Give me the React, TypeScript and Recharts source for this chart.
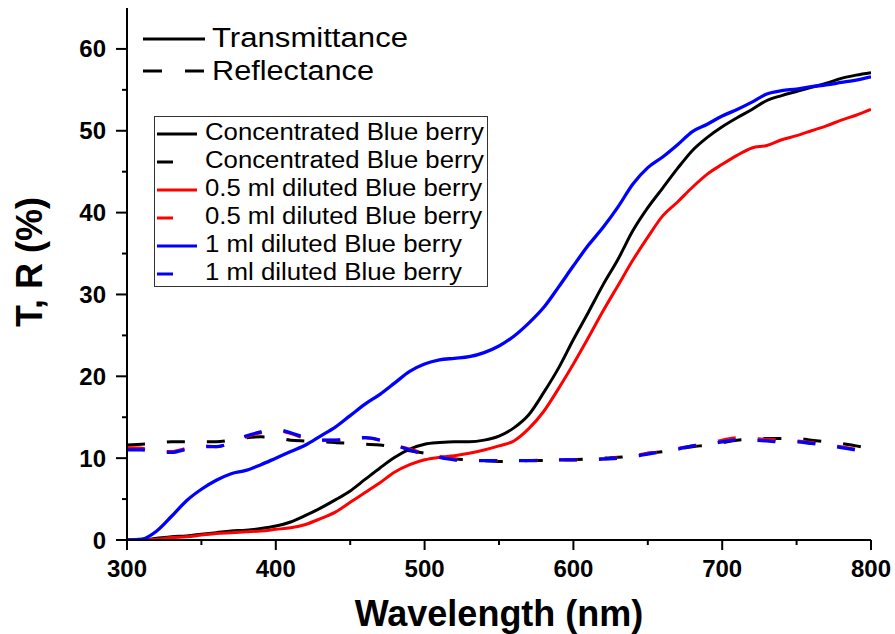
import React from 'react';
import { LineChart, Line, XAxis, YAxis } from 'recharts';

const wavelengths = [300, 310, 320, 330, 340, 350, 360, 370, 380, 390, 400, 410, 420, 430, 440, 450, 460, 470, 480, 490, 500, 510, 520, 530, 540, 550, 560, 570, 580, 590, 600, 610, 620, 630, 640, 650, 660, 670, 680, 690, 700, 710, 720, 730, 740, 750, 760, 770, 780, 790, 800];

const concT = [0, 0, 0.2, 0.4, 0.5, 0.7, 0.9, 1.1, 1.2, 1.4, 1.7, 2.2, 3.0, 3.9, 4.9, 6.0, 7.4, 8.8, 10.1, 11.1, 11.7, 11.9, 12.0, 12.0, 12.2, 12.7, 13.7, 15.3, 18.0, 21.0, 24.5, 27.8, 31.2, 34.3, 37.8, 40.6, 43.0, 45.4, 47.6, 49.2, 50.5, 51.6, 52.6, 53.7, 54.3, 54.8, 55.3, 55.8, 56.4, 56.8, 57.1];
const concR = [11.6, 11.7, 11.8, 12.0, 12.0, 12.0, 12.0, 12.2, 12.5, 12.6, 12.5, 12.2, 12.1, 12.0, 11.9, 11.8, 11.7, 11.6, 11.3, 10.9, 10.6, 10.2, 9.9, 9.8, 9.7, 9.6, 9.6, 9.7, 9.7, 9.8, 9.8, 9.9, 10.0, 10.1, 10.3, 10.6, 10.8, 11.1, 11.4, 11.6, 11.9, 12.2, 12.3, 12.4, 12.4, 12.4, 12.2, 12.0, 11.8, 11.5, 11.2];
const halfT = [0, 0, 0.1, 0.3, 0.4, 0.6, 0.8, 0.9, 1.0, 1.1, 1.3, 1.5, 1.9, 2.6, 3.4, 4.6, 5.8, 7.0, 8.3, 9.2, 9.8, 10.1, 10.3, 10.6, 11.0, 11.5, 12.1, 13.6, 15.7, 18.5, 21.5, 24.7, 28.0, 31.1, 34.2, 37.0, 39.6, 41.3, 43.1, 44.7, 45.9, 47.0, 47.9, 48.2, 48.9, 49.4, 50.0, 50.6, 51.3, 51.9, 52.6];
const halfR = [11.3, 11.2, 10.9, 10.8, 11.2, 11.5, 11.4, 11.9, 12.6, 13.1, 13.4, 13.0, 12.4, 12.2, 12.2, 12.4, 12.5, 12.2, 11.6, 11.1, 10.6, 10.2, 9.9, 9.8, 9.7, 9.7, 9.7, 9.7, 9.8, 9.8, 9.8, 9.9, 9.9, 10.1, 10.3, 10.6, 10.8, 11.2, 11.5, 11.8, 12.2, 12.5, 12.4, 12.3, 12.2, 12.1, 11.9, 11.6, 11.4, 11.1, 10.9];
const oneT = [0, 0.1, 1.1, 2.9, 4.8, 6.2, 7.3, 8.1, 8.5, 9.2, 10.0, 10.8, 11.6, 12.7, 13.8, 15.2, 16.6, 17.8, 19.2, 20.6, 21.5, 22.0, 22.2, 22.4, 22.9, 23.7, 24.9, 26.5, 28.4, 30.9, 33.5, 36.0, 38.2, 40.7, 43.5, 45.5, 46.8, 48.3, 49.9, 50.8, 51.8, 52.6, 53.5, 54.5, 54.9, 55.1, 55.4, 55.6, 55.9, 56.2, 56.6];
const oneR = [11.0, 11.0, 10.7, 10.7, 11.1, 11.4, 11.4, 11.9, 12.7, 13.2, 13.5, 13.1, 12.5, 12.2, 12.2, 12.4, 12.5, 12.2, 11.6, 11.0, 10.5, 10.1, 9.8, 9.7, 9.7, 9.7, 9.7, 9.7, 9.7, 9.8, 9.8, 9.8, 9.9, 10.0, 10.2, 10.5, 10.8, 11.1, 11.5, 11.7, 12.0, 12.2, 12.2, 12.1, 12.0, 12.0, 11.8, 11.6, 11.3, 11.0, 10.7];

const seriesNames = ['Concentrated Blue berry', '0.5 ml diluted Blue berry', '1 ml diluted Blue berry'];
const seriesColors = ['#000000', '#ff0000', '#0000ff'];
const typeNames = ['Transmittance', 'Reflectance'];
const xTicks = [300, 350, 400, 450, 500, 550, 600, 650, 700, 750, 800];
const yTicks = [0, 5, 10, 15, 20, 25, 30, 35, 40, 45, 50, 55, 60];
const xTitle = 'Wavelength (nm)';
const yTitle = 'T, R (%)';

const data = wavelengths.map((wl, i) => ({
  wl,
  concT: concT[i],
  concR: concR[i],
  halfT: halfT[i],
  halfR: halfR[i],
  oneT: oneT[i],
  oneR: oneR[i],
}));

const FONT = "'Liberation Sans', Arial, Helvetica, sans-serif";
const DASH = '18 22';

const BottomTick = (props: any) => {
  const { x, y, payload } = props;
  const major = payload.value % 100 === 0;
  return (
    <g>
      <line x1={x} x2={x} y1={y} y2={y + (major ? 10 : 5)} stroke="#000" strokeWidth={2} />
      {major && (
        <text x={x} y={y + 37} textAnchor="middle" fontFamily={FONT} fontWeight="bold" fontSize={24} fill="#000">
          {payload.value}
        </text>
      )}
    </g>
  );
};

const LeftTick = (props: any) => {
  const { x, y, payload } = props;
  const major = payload.value % 10 === 0;
  return (
    <g>
      <line x1={x - (major ? 11 : 5)} x2={x} y1={y} y2={y} stroke="#000" strokeWidth={2} />
      {major && (
        <text x={x - 21} y={y + 8.5} textAnchor="end" fontFamily={FONT} fontWeight="bold" fontSize={24} fill="#000">
          {payload.value}
        </text>
      )}
    </g>
  );
};

const TopTick = (props: any) => {
  const { x, y } = props;
  return <line x1={x} x2={x} y1={y} y2={y + 8} stroke="#000" strokeWidth={2} />;
};

const RightTick = (props: any) => {
  const { x, y } = props;
  return <line x1={x - 9} x2={x} y1={y} y2={y} stroke="#000" strokeWidth={2} />;
};

const legendWidths = [279, 277, 257];

const Overlay = () => (
  <svg width={895} height={634} style={{ position: 'absolute', left: 0, top: 0, pointerEvents: 'none' }}>
    {/* type legend */}
    <line x1={143} x2={205} y1={39} y2={39} stroke="#000" strokeWidth={3} />
    <text x={212} y={47} fontFamily={FONT} fontSize={27} textLength={196} lengthAdjust="spacingAndGlyphs" fill="#000">
      {typeNames[0]}
    </text>
    <line x1={143} x2={205} y1={71} y2={71} stroke="#000" strokeWidth={3} strokeDasharray="19 23" />
    <text x={212} y={80} fontFamily={FONT} fontSize={27} textLength={162} lengthAdjust="spacingAndGlyphs" fill="#000">
      {typeNames[1]}
    </text>
    {/* series legend */}
    <rect x={154.5} y={116.5} width={333} height={170} fill="#fff" stroke="#333" strokeWidth={1} />
    {seriesNames.map((name, i) =>
      [0, 1].map((k) => {
        const row = i * 2 + k;
        const base = 140 + row * 28;
        return (
          <g key={`${i}-${k}`}>
            <line
              x1={157}
              x2={k === 0 ? 197 : 173}
              y1={base - 6}
              y2={base - 6}
              stroke={seriesColors[i]}
              strokeWidth={3}
            />
            <text
              x={205}
              y={base}
              fontFamily={FONT}
              fontSize={23}
              textLength={legendWidths[i]}
              lengthAdjust="spacingAndGlyphs"
              fill="#000"
            >
              {name}
            </text>
          </g>
        );
      })
    )}
    {/* axis titles */}
    <text x={499} y={626} textAnchor="middle" fontFamily={FONT} fontWeight="bold" fontSize={36} fill="#000">
      {xTitle}
    </text>
    <text
      transform="translate(42,262) rotate(-90)"
      textAnchor="middle"
      fontFamily={FONT}
      fontWeight="bold"
      fontSize={36}
      fill="#000"
    >
      {yTitle}
    </text>
  </svg>
);

export default function App() {
  return (
    <div style={{ position: 'absolute', left: 0, top: 0, width: 895, height: 634, background: '#fff' }}>
      <LineChart width={895} height={634} data={data} margin={{ top: 8, right: 24, bottom: 0, left: 0 }}>
        <XAxis
          xAxisId="bottom"
          dataKey="wl"
          type="number"
          domain={[300, 800]}
          allowDataOverflow
          ticks={xTicks}
          interval={0}
          height={94}
          tickSize={0}
          tickMargin={0}
          tickLine={false}
          tick={<BottomTick />}
          axisLine={{ stroke: '#000', strokeWidth: 2 }}
        />
        <XAxis
          xAxisId="top"
          orientation="top"
          dataKey="wl"
          type="number"
          domain={[300, 800]}
          allowDataOverflow
          ticks={xTicks}
          interval={0}
          height={0}
          mirror
          tickSize={0}
          tickMargin={0}
          tickLine={false}
          tick={<TopTick />}
          axisLine={{ stroke: '#000', strokeWidth: 2 }}
        />
        <YAxis
          yAxisId="left"
          type="number"
          domain={[0, 65]}
          allowDataOverflow
          ticks={yTicks}
          interval={0}
          width={127}
          tickSize={0}
          tickMargin={0}
          tickLine={false}
          tick={<LeftTick />}
          axisLine={{ stroke: '#000', strokeWidth: 2 }}
        />
        <YAxis
          yAxisId="right"
          orientation="right"
          type="number"
          domain={[0, 65]}
          allowDataOverflow
          ticks={yTicks}
          interval={0}
          width={0}
          mirror
          tickSize={0}
          tickMargin={0}
          tickLine={false}
          tick={<RightTick />}
          axisLine={{ stroke: '#000', strokeWidth: 2 }}
        />
        <Line xAxisId="top" yAxisId="right" dataKey="concT" stroke="none" dot={false} activeDot={false} isAnimationActive={false} legendType="none" />
        <Line xAxisId="bottom" yAxisId="left" type="monotone" dataKey="concT" stroke={seriesColors[0]} strokeWidth={3} dot={false} isAnimationActive={false} />
        <Line xAxisId="bottom" yAxisId="left" type="monotone" dataKey="concR" stroke={seriesColors[0]} strokeWidth={3} strokeDasharray={DASH} dot={false} isAnimationActive={false} />
        <Line xAxisId="bottom" yAxisId="left" type="monotone" dataKey="halfT" stroke={seriesColors[1]} strokeWidth={3} dot={false} isAnimationActive={false} />
        <Line xAxisId="bottom" yAxisId="left" type="monotone" dataKey="halfR" stroke={seriesColors[1]} strokeWidth={3} strokeDasharray={DASH} dot={false} isAnimationActive={false} />
        <Line xAxisId="bottom" yAxisId="left" type="monotone" dataKey="oneT" stroke={seriesColors[2]} strokeWidth={3.3} dot={false} isAnimationActive={false} />
        <Line xAxisId="bottom" yAxisId="left" type="monotone" dataKey="oneR" stroke={seriesColors[2]} strokeWidth={3.3} strokeDasharray={DASH} dot={false} isAnimationActive={false} />
      </LineChart>
      <Overlay />
    </div>
  );
}
